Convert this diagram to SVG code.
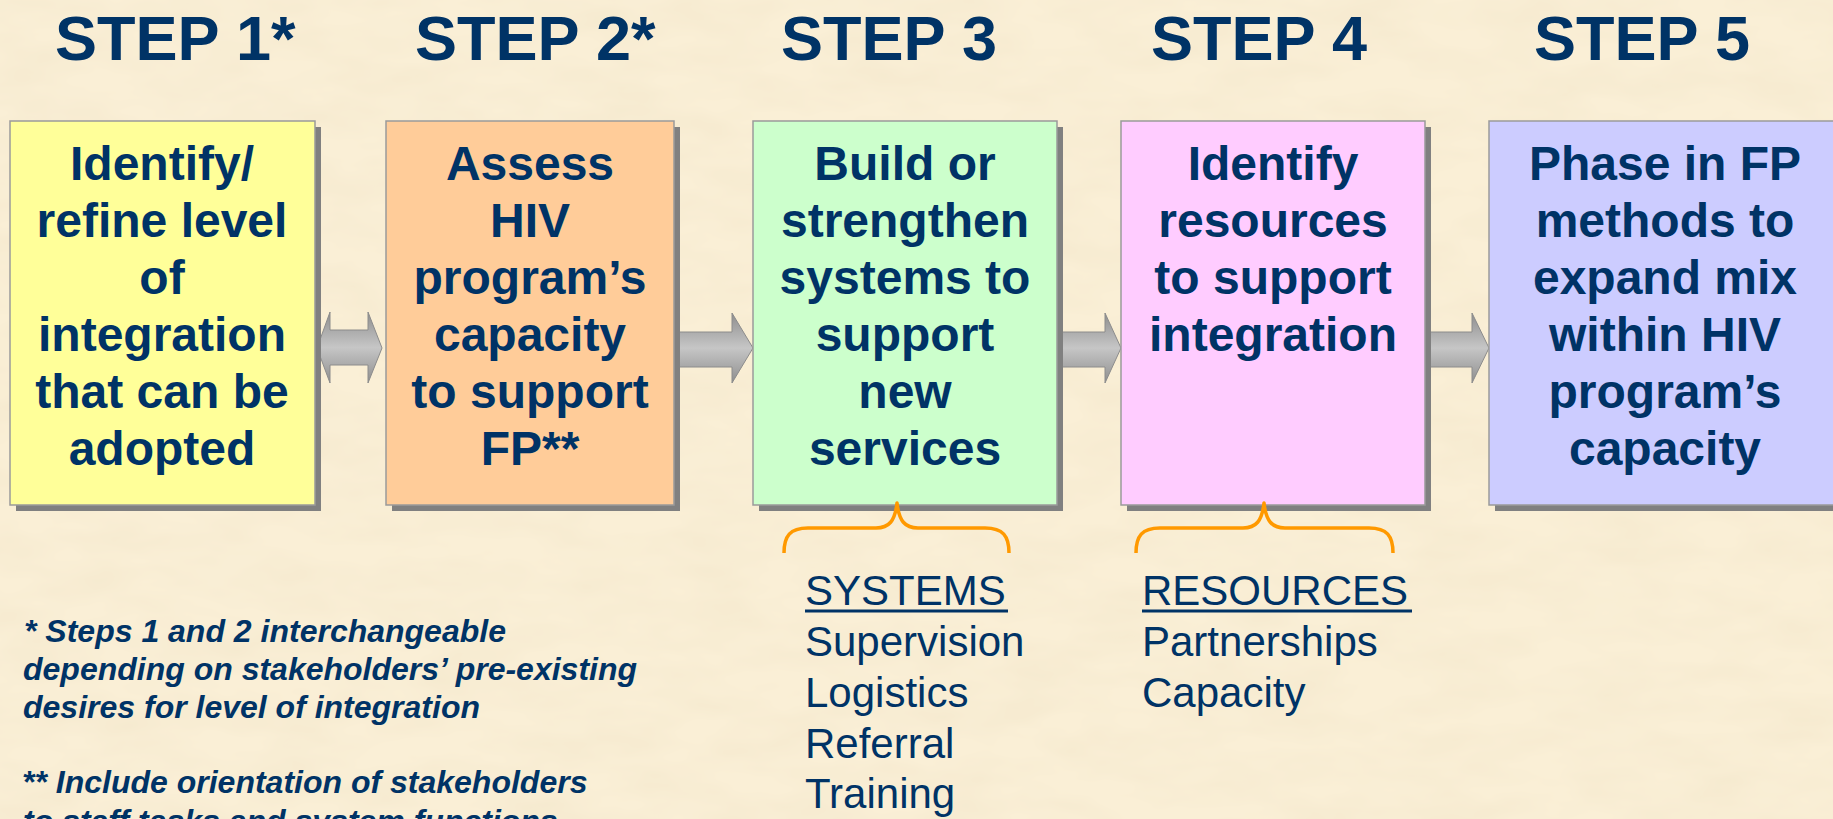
<svg xmlns="http://www.w3.org/2000/svg" width="1833" height="819" viewBox="0 0 1833 819">
  <defs>
    <style>
      .head { font-family: "Liberation Sans", Arial, sans-serif; font-weight: bold; font-size: 63px; fill: #003366; }
      .boxtxt { font-family: "Liberation Sans", Arial, sans-serif; font-weight: bold; font-size: 48px; fill: #003366; text-anchor: middle; }
      .list { font-family: "Liberation Sans", Arial, sans-serif; font-size: 42px; fill: #003366; }
      .note { font-family: "Liberation Sans", Arial, sans-serif; font-weight: bold; font-style: italic; font-size: 32px; fill: #003366; }
      .box { stroke: #9a9a9a; stroke-width: 1.5; }
      .shadow { fill: #808080; }
      .arrow { fill: url(#arrowGrad); stroke: #8c8c8c; stroke-width: 1; }
      .brace { fill: none; stroke: #FF9900; stroke-width: 3.5; stroke-linejoin: round; }
    </style>
    <linearGradient id="arrowGrad" x1="0" y1="0" x2="0" y2="1">
      <stop offset="0" stop-color="#8e8e8e"/>
      <stop offset="0.5" stop-color="#c6c6c6"/>
      <stop offset="1" stop-color="#8e8e8e"/>
    </linearGradient>
    <filter id="paper" x="0" y="0" width="100%" height="100%">
      <feTurbulence type="fractalNoise" baseFrequency="0.012 0.03" numOctaves="3" seed="7" result="n"/>
      <feColorMatrix in="n" type="matrix" values="0 0 0 0 0.88  0 0 0 0 0.78  0 0 0 0 0.58  0.8 0 0 0 -0.25"/>
    </filter>
  </defs>

  <!-- background -->
  <rect x="0" y="0" width="1833" height="819" fill="#FAEFD6"/>
  <rect x="0" y="0" width="1833" height="819" filter="url(#paper)"/>

  <!-- headings -->
  <g id="headings">
    <text class="head" x="55" y="60">STEP 1*</text>
    <text class="head" x="415" y="60">STEP 2*</text>
    <text class="head" x="781" y="60">STEP 3</text>
    <text class="head" x="1151" y="60">STEP 4</text>
    <text class="head" x="1534" y="60">STEP 5</text>
  </g>

  <!-- connectors -->
  <g id="connectors">
    <path class="arrow" d="M317,348 L330,312 L330,330 L368,330 L368,312 L382,348 L368,383 L368,365 L330,365 L330,383 Z"/>
    <path class="arrow" d="M674,332 L732,332 L732,313 L753,348 L732,383 L732,367 L674,367 Z"/>
    <path class="arrow" d="M1057,332 L1105,332 L1105,313 L1121,348 L1105,383 L1105,367 L1057,367 Z"/>
    <path class="arrow" d="M1425,332 L1472,332 L1472,313 L1489,348 L1472,383 L1472,367 L1425,367 Z"/>
  </g>

  <!-- step 1 -->
  <g id="step1">
    <rect class="shadow" x="16" y="127" width="305" height="384"/>
    <rect class="box" x="10" y="121" width="305" height="384" fill="#FFFF99"/>
    <text class="boxtxt" x="162" y="180">Identify/</text>
    <text class="boxtxt" x="162" y="237">refine level</text>
    <text class="boxtxt" x="162" y="294">of</text>
    <text class="boxtxt" x="162" y="351">integration</text>
    <text class="boxtxt" x="162" y="408">that can be</text>
    <text class="boxtxt" x="162" y="465">adopted</text>
  </g>

  <!-- step 2 -->
  <g id="step2">
    <rect class="shadow" x="392" y="127" width="288" height="384"/>
    <rect class="box" x="386" y="121" width="288" height="384" fill="#FFCC99"/>
    <text class="boxtxt" x="530" y="180">Assess</text>
    <text class="boxtxt" x="530" y="237">HIV</text>
    <text class="boxtxt" x="530" y="294">program’s</text>
    <text class="boxtxt" x="530" y="351">capacity</text>
    <text class="boxtxt" x="530" y="408">to support</text>
    <text class="boxtxt" x="530" y="465">FP**</text>
  </g>

  <!-- step 3 -->
  <g id="step3">
    <rect class="shadow" x="759" y="127" width="304" height="384"/>
    <rect class="box" x="753" y="121" width="304" height="384" fill="#CCFFCC"/>
    <text class="boxtxt" x="905" y="180">Build or</text>
    <text class="boxtxt" x="905" y="237">strengthen</text>
    <text class="boxtxt" x="905" y="294">systems to</text>
    <text class="boxtxt" x="905" y="351">support</text>
    <text class="boxtxt" x="905" y="408">new</text>
    <text class="boxtxt" x="905" y="465">services</text>
  </g>

  <!-- step 4 -->
  <g id="step4">
    <rect class="shadow" x="1127" y="127" width="304" height="384"/>
    <rect class="box" x="1121" y="121" width="304" height="384" fill="#FFCCFF"/>
    <text class="boxtxt" x="1273" y="180">Identify</text>
    <text class="boxtxt" x="1273" y="237">resources</text>
    <text class="boxtxt" x="1273" y="294">to support</text>
    <text class="boxtxt" x="1273" y="351">integration</text>
  </g>

  <!-- step 5 -->
  <g id="step5">
    <rect class="shadow" x="1495" y="127" width="360" height="384"/>
    <rect class="box" x="1489" y="121" width="360" height="384" fill="#CCCCFF"/>
    <text class="boxtxt" x="1665" y="180">Phase in FP</text>
    <text class="boxtxt" x="1665" y="237">methods to</text>
    <text class="boxtxt" x="1665" y="294">expand mix</text>
    <text class="boxtxt" x="1665" y="351">within HIV</text>
    <text class="boxtxt" x="1665" y="408">program’s</text>
    <text class="boxtxt" x="1665" y="465">capacity</text>
  </g>

  <!-- systems brace and list -->
  <g id="systems">
    <path class="brace" d="M784,553 C784,536 790,528 808,528 L876,528 C889,528 895,521 897,503 C899,521 905,528 918,528 L985,528 C1003,528 1009,536 1009,553"/>
    <text class="list" x="805" y="605">SYSTEMS</text>
    <rect x="805" y="609.5" width="203" height="3" fill="#003366"/>
    <text class="list" x="805" y="656">Supervision</text>
    <text class="list" x="805" y="707">Logistics</text>
    <text class="list" x="805" y="758">Referral</text>
    <text class="list" x="805" y="808">Training</text>
  </g>

  <!-- resources brace and list -->
  <g id="resources">
    <path class="brace" d="M1136,553 C1136,536 1142,528 1160,528 L1243,528 C1256,528 1262,521 1264,503 C1266,521 1272,528 1285,528 L1369,528 C1387,528 1393,536 1393,553"/>
    <text class="list" x="1142" y="605">RESOURCES</text>
    <rect x="1142" y="609.5" width="270" height="3" fill="#003366"/>
    <text class="list" x="1142" y="656">Partnerships</text>
    <text class="list" x="1142" y="707">Capacity</text>
  </g>

  <!-- footnotes -->
  <g id="footnotes">
    <text class="note" x="24" y="642">* Steps 1 and 2 interchangeable</text>
    <text class="note" x="23" y="680">depending on stakeholders’ pre-existing</text>
    <text class="note" x="23" y="718">desires for level of integration</text>
    <text class="note" x="22" y="793">** Include orientation of stakeholders</text>
    <text class="note" x="23" y="832">to staff tasks and system functions</text>
  </g>
</svg>
